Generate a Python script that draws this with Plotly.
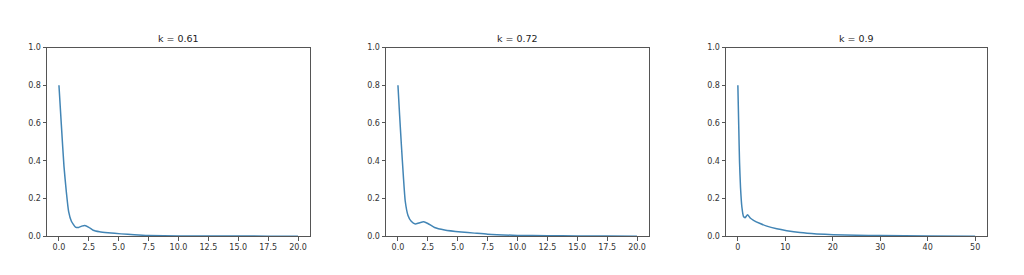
import plotly.graph_objects as go

titles = ["k = 0.61", "k = 0.72", "k = 0.9"]

x1 = [0, 0.2, 0.42, 0.62, 0.81, 1.04, 1.38, 1.65, 1.9, 2.16, 2.5, 2.86, 3.4, 4.1, 5.2, 6.3, 7.5, 10, 12.5, 15, 17.5, 20]
y1 = [0.80, 0.59, 0.37, 0.233, 0.13, 0.079, 0.048, 0.046, 0.053, 0.057, 0.047, 0.031, 0.023, 0.018, 0.012, 0.007, 0.003, 0.001, 0.0005, 0.0002, 0.0001, 0.0]

x2 = [0, 0.14, 0.28, 0.45, 0.61, 0.84, 1.11, 1.45, 1.75, 2.15, 2.5, 3.06, 3.9, 5.3, 6.4, 7.5, 10, 12.5, 15, 17.5, 20]
y2 = [0.80, 0.64, 0.49, 0.32, 0.185, 0.11, 0.079, 0.065, 0.070, 0.076, 0.067, 0.046, 0.033, 0.022, 0.016, 0.010, 0.004, 0.002, 0.001, 0.0005, 0.0]

x3 = [0, 0.2, 0.35, 0.56, 0.84, 1.19, 1.54, 2.03, 2.6, 3.3, 4.7, 6.1, 8.2, 10.3, 13.1, 16.6, 20.1, 25, 30, 40, 50]
y3 = [0.80, 0.567, 0.395, 0.258, 0.156, 0.104, 0.098, 0.114, 0.096, 0.084, 0.067, 0.053, 0.039, 0.029, 0.019, 0.012, 0.008, 0.005, 0.003, 0.001, 0.0]

series = [(x1, y1), (x2, y2), (x3, y3)]
xranges = [[-1, 21], [-1, 21], [-2.5, 52.5]]
xticks = [[0, 2.5, 5, 7.5, 10, 12.5, 15, 17.5, 20],
          [0, 2.5, 5, 7.5, 10, 12.5, 15, 17.5, 20],
          [0, 10, 20, 30, 40, 50]]
xfmt = [".1f", ".1f", "d"]
yticks = [0.0, 0.2, 0.4, 0.6, 0.8, 1.0]

W, H = 1024, 275
xdoms = [(47, 310), (386, 649), (726, 987)]
top, bot = 45, 240
ydom = [(H - bot) / H, (H - top) / H]

fig = go.Figure()
font = dict(family="DejaVu Sans", size=8, color="#333333")
for i, ((xs, ys), t) in enumerate(zip(series, titles)):
    n = "" if i == 0 else str(i + 1)
    fig.add_trace(go.Scatter(x=xs, y=ys, mode="lines",
                             line=dict(color="#4285b5", width=1.5, shape="spline", smoothing=0.5),
                             xaxis="x" + n, yaxis="y" + n, showlegend=False, hoverinfo="skip"))
    ax = dict(domain=[xdoms[i][0] / W, xdoms[i][1] / W], range=xranges[i],
              tickvals=xticks[i], tickformat=xfmt[i], showgrid=False, zeroline=False,
              showline=True, mirror=True, linecolor="#555555", linewidth=1,
              ticks="outside", ticklen=3.5, tickwidth=0.8, tickcolor="#555555",
              tickfont=font, anchor="y" + n)
    ay = dict(domain=ydom, range=[0, 1.0], tickvals=yticks, tickformat=".1f",
              showgrid=False, zeroline=False, showline=True, mirror=True,
              linecolor="#555555", linewidth=1, ticks="outside", ticklen=3.5,
              tickwidth=0.8, tickcolor="#555555", tickfont=font, anchor="x" + n)
    fig.update_layout(**{"xaxis" + n: ax, "yaxis" + n: ay})
    fig.add_annotation(text=t, x=(xdoms[i][0] + xdoms[i][1]) / 2 / W, y=(H - 36) / H,
                       xref="paper", yref="paper", xanchor="center", yanchor="middle",
                       showarrow=False,
                       font=dict(family="DejaVu Sans", size=9.5, color="#222222"))

fig.update_layout(width=W, height=H, margin=dict(l=0, r=0, t=0, b=0),
                  paper_bgcolor="white", plot_bgcolor="white")
fig.write_html("out.html")
